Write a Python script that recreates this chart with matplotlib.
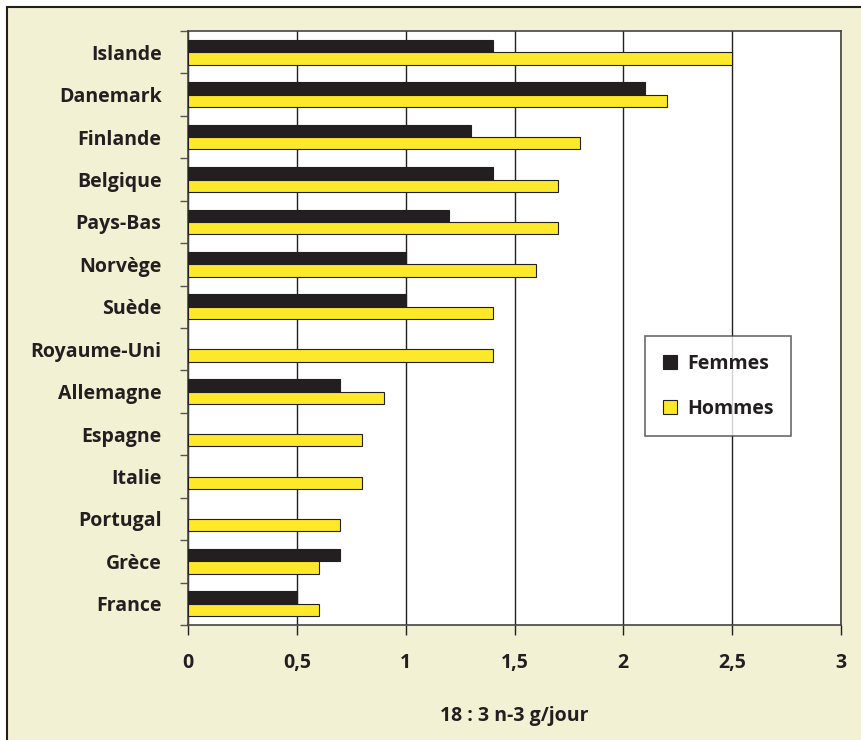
import numpy as np
import matplotlib.pyplot as plt
from matplotlib.patches import Rectangle

plt.rcParams['font.family'] = ['Open Sans', 'DejaVu Sans']
plt.rcParams['font.weight'] = 'bold'

# Apports en acide alpha-linolénique par pays
pays = ['Islande', 'Danemark', 'Finlande', 'Belgique', 'Pays-Bas', 'Norvège',
        'Suède', 'Royaume-Uni', 'Allemagne', 'Espagne', 'Italie', 'Portugal',
        'Grèce', 'France']
femmes = [1.4, 2.1, 1.3, 1.4, 1.2, 1.0, 1.0, np.nan, 0.7, np.nan, np.nan, np.nan, 0.7, 0.5]
hommes = [2.5, 2.2, 1.8, 1.7, 1.7, 1.6, 1.4, 1.4, 0.9, 0.8, 0.8, 0.7, 0.6, 0.6]
xticks = [0, 0.5, 1, 1.5, 2, 2.5, 3]
xtick_labels = ['0', '0,5', '1', '1,5', '2', '2,5', '3']

fond = '#F3F1D4'
noir = '#231F20'
jaune = '#FDE82A'

fig = plt.figure(figsize=(8.61, 7.40), dpi=100)
fig.patch.set_facecolor('white')
# cadre crème autour du graphique
fig.patches.append(Rectangle((7 / 861, -0.1), 1.2, 1 - 7 / 740 + 0.1,
                             transform=fig.transFigure, facecolor=fond,
                             edgecolor=noir, linewidth=1.5, zorder=-1))

ax = fig.add_axes([188 / 861, 1 - 625 / 740, 653 / 861, 594 / 740])
ax.set_facecolor('white')

y = np.arange(len(pays))
h = 0.29
ax.barh(y - h / 2, femmes, height=h, color=noir, edgecolor=noir, linewidth=0.8,
        label='Femmes', zorder=3)
ax.barh(y + h / 2, hommes, height=h, color=jaune, edgecolor=noir, linewidth=0.8,
        label='Hommes', zorder=3)

ax.set_xlim(0, 3)
ax.set_ylim(len(pays) - 0.5, -0.5)

ax.set_xticks(xticks)
ax.set_xticklabels(xtick_labels, fontsize=14, color=noir)
ax.set_yticks(y)
ax.set_yticklabels(pays, fontsize=14, color=noir)
ax.set_yticks(np.arange(-0.5, len(pays), 1), minor=True)
ax.tick_params(axis='y', which='major', length=0, pad=19)
ax.tick_params(axis='y', which='minor', length=6, width=1, color='#555555')
ax.tick_params(axis='x', length=7, width=1, color=noir, pad=13)

ax.xaxis.grid(True, color=noir, linewidth=1)
ax.set_axisbelow(True)
for s in ax.spines.values():
    s.set_color('#444444')
    s.set_linewidth(1.2)

ax.set_xlabel('18 : 3 n-3 g/jour', fontsize=14, fontweight='bold', color=noir,
              labelpad=24)

leg = ax.legend(loc='upper left', bbox_to_anchor=(0.70, 0.4865), fontsize=14,
                frameon=True, fancybox=False, handlelength=0.75, handleheight=0.75,
                labelspacing=1.3, borderpad=0.9, handletextpad=0.5,
                borderaxespad=0)
leg.get_frame().set_edgecolor('#444444')
leg.get_frame().set_linewidth(1.2)
for t in leg.get_texts():
    t.set_color(noir)

fig.savefig('out.png', dpi=100, facecolor=fig.get_facecolor())
